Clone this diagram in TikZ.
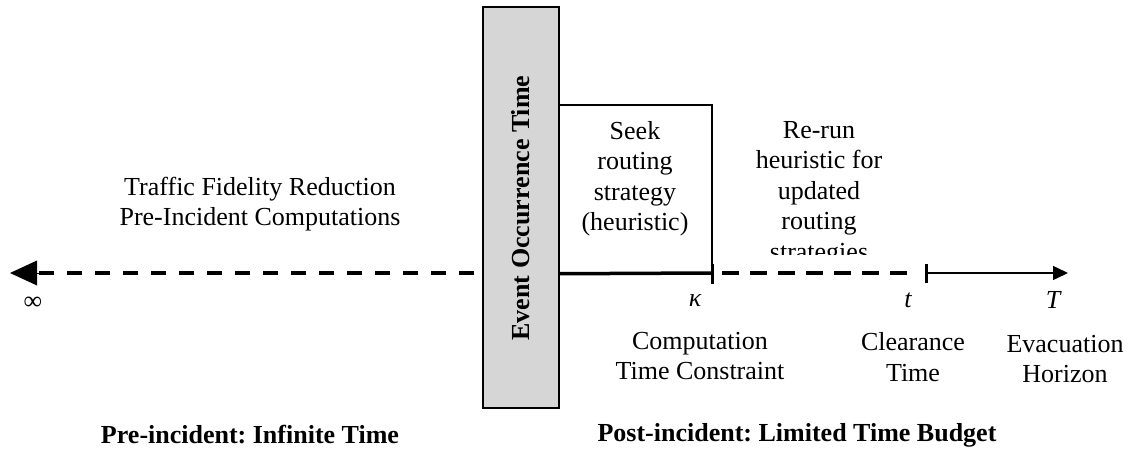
\documentclass[tikz,border=0pt]{standalone}
\usepackage{fontspec}
\setmainfont{Liberation Serif}
\usetikzlibrary{arrows.meta}
\frenchspacing
\begin{document}
\begin{tikzpicture}[x=1pt,y=-1pt,
  txt/.style={font=\fontsize{26}{30.5}\selectfont, align=center, inner sep=0pt},
  boldtxt/.style={font=\fontsize{26}{30.5}\selectfont\bfseries, inner sep=0pt},
  mathlbl/.style={font=\fontsize{26}{30.5}\selectfont\itshape, inner sep=0pt},
  dashaxis/.style={line width=4pt, dash pattern=on 15pt off 13pt},
  tickmark/.style={line width=3pt},
  eventbox/.style={draw, line width=2pt, fill=black!16, inner sep=0pt},
  seekbox/.style={draw, line width=1.5pt, inner sep=0pt}]
\useasboundingbox (0,0) rectangle (1130,452);

% event occurrence bar
\node[eventbox, minimum width=76pt, minimum height=401pt] (event) at (521,207.5) {};
\node[boldtxt, rotate=90] (eventtxt) at (521,208) {Event Occurrence Time};

% heuristic computation window
\node[seekbox, minimum width=153pt, minimum height=168pt] (seek) at (635.5,189) {};
\node[txt] (seektxt) at (635,178.5) {Seek\\routing\\strategy\\(heuristic)};

% axis points
\coordinate (inf) at (10,273);
\coordinate (infbase) at (38,273);
\coordinate (leftend) at (476,273);
\coordinate (kap) at (712,273);
\coordinate (clr) at (926,273);
\coordinate (hor) at (1068,273);

% pre-incident axis to infinity
\draw[dashaxis, dash phase=-2pt] (leftend) -- (infbase);
\draw[line width=0pt, -{Triangle[length=27pt,width=25pt]}] (infbase) -- (inf);

% post-incident axis
\draw[line width=3.5pt] (seek.south west) -- (kap);
\draw[tickmark] ([yshift=-11pt]kap) -- ([yshift=9pt]kap);
\draw[dashaxis, dash pattern=on 17pt off 11pt, dash phase=-10pt] (kap) -- ([xshift=-12pt]clr);
\draw[tickmark] ([yshift=-10pt]clr) -- ([yshift=9pt]clr);
\draw[line width=1.5pt, -{Triangle[length=15pt,width=14pt]}] (clr) -- (hor);

% axis labels
\node[txt] (inflbl) at (33,303) {∞};
\node[mathlbl] (kaplbl) at (695,301) {κ};
\node[mathlbl] (clrlbl) at (908,300) {t};
\node[mathlbl] (horlbl) at (1053,300) {T};

\node[txt] (comptxt) at (700,356) {Computation\\Time Constraint};
\node[txt] (clrtxt) at (913,357) {Clearance\\Time};
\node[txt] (hortxt) at (1065,359) {Evacuation\\Horizon};

\node[txt] (pretxt) at (260,204) {Traffic Fidelity Reduction\\Pre-Incident Computations};

% re-run note, cut off above the axis
\begin{scope}
\clip (720,100) rectangle (930,254);
\node[txt, anchor=north] (reruntxt) at (819,121) {Re-run\\heuristic for\\updated\\routing\\strategies};
\end{scope}

% phase captions
\node[boldtxt] (precap) at (250,435) {Pre-incident: Infinite Time};
\node[boldtxt] (postcap) at (797,435) {Post-incident: Limited Time Budget};
\end{tikzpicture}
\end{document}
